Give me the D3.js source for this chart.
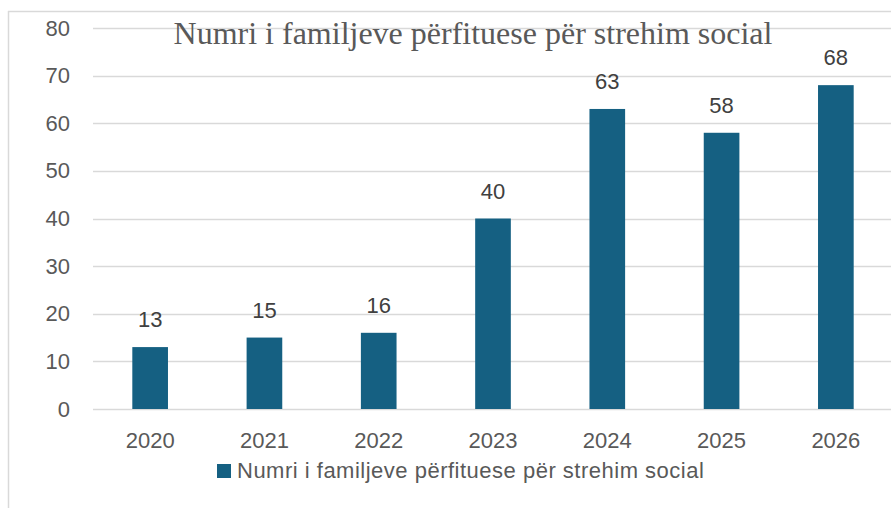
<!DOCTYPE html>
<html>
<head>
<meta charset="utf-8">
<script src="https://cdn.jsdelivr.net/npm/d3@7"></script>
<style>
  body { margin: 0; background: #fff; }
  svg { display: block; }
</style>
</head>
<body>
<svg></svg>
<script>
// chart values
const years = ['2020', '2021', '2022', '2023', '2024', '2025', '2026'];
const families = [13, 15, 16, 40, 63, 58, 68];
const yTicks = [0, 10, 20, 30, 40, 50, 60, 70, 80];
const title = 'Numri i familjeve përfituese për strehim social';
const seriesName = 'Numri i familjeve përfituese për strehim social';

let width = 891;
let height = 508;

let svg = d3.select('svg')
    .attr('width', width)
    .attr('height', height);

// chart frame (only top and left edges are visible)
svg.append('line')
    .attr('x1', 8.5).attr('x2', 8.5)
    .attr('y1', 11).attr('y2', height)
    .attr('stroke', '#d9d9d9').attr('stroke-width', 1.5);
svg.append('line')
    .attr('x1', 8).attr('x2', width)
    .attr('y1', 11.5).attr('y2', 11.5)
    .attr('stroke', '#d9d9d9').attr('stroke-width', 1.5);

let plot = { left: 93, right: 893, top: 28, bottom: 409 };

let x = d3.scaleBand()
    .domain(years)
    .range([plot.left, plot.right])
    .paddingInner(0.688)
    .paddingOuter(0.344);

let y = d3.scaleLinear()
    .domain([0, 80])
    .range([plot.bottom, plot.top]);

const sans = '"Liberation Sans", Arial, sans-serif';

// gridlines
svg.append('g')
    .selectAll('line')
    .data(yTicks)
    .enter()
    .append('line')
    .attr('x1', plot.left)
    .attr('x2', plot.right)
    .attr('y1', d => Math.round(y(d)) + 0.5)
    .attr('y2', d => Math.round(y(d)) + 0.5)
    .attr('stroke', '#d9d9d9')
    .attr('stroke-width', 1.5);

// title (drawn over the top gridline like the original)
svg.append('text')
    .attr('x', 473)
    .attr('y', 44)
    .attr('text-anchor', 'middle')
    .style('font-family', '"Liberation Serif", "DejaVu Serif", serif')
    .style('font-size', '32px')
    .style('fill', '#595959')
    .text(title);

// y axis labels
let yAxis = d3.axisLeft(y)
    .tickValues(yTicks)
    .tickSize(0)
    .tickPadding(23);
svg.append('g')
    .attr('transform', `translate(${plot.left},0)`)
    .call(yAxis)
    .call(g => g.select('.domain').remove())
    .selectAll('text')
    .style('font-family', sans)
    .style('font-size', '22px')
    .style('fill', '#595959');

// x axis labels
let xAxis = d3.axisBottom(x)
    .tickSize(0)
    .tickPadding(23);
svg.append('g')
    .attr('transform', `translate(0,${plot.bottom})`)
    .call(xAxis)
    .call(g => g.select('.domain').remove())
    .selectAll('text')
    .style('font-family', sans)
    .style('font-size', '22px')
    .style('fill', '#595959');

// bars
let data = years.map((yr, i) => ({ year: yr, value: families[i] }));

svg.append('g')
    .selectAll('rect')
    .data(data)
    .enter()
    .append('rect')
    .attr('x', d => x(d.year))
    .attr('y', d => y(d.value))
    .attr('width', x.bandwidth())
    .attr('height', d => y(0) - y(d.value))
    .attr('fill', '#156082');

// value labels
svg.append('g')
    .selectAll('text')
    .data(data)
    .enter()
    .append('text')
    .attr('x', d => x(d.year) + x.bandwidth() / 2)
    .attr('y', d => y(d.value) - 20)
    .attr('text-anchor', 'middle')
    .style('font-family', sans)
    .style('font-size', '22px')
    .style('fill', '#404040')
    .text(d => d.value);

// legend
let legend = svg.append('g').attr('transform', 'translate(217,464)');
legend.append('rect')
    .attr('width', 14)
    .attr('height', 14)
    .attr('fill', '#156082');
legend.append('text')
    .attr('x', 20)
    .attr('y', 14)
    .style('font-family', sans)
    .style('font-size', '22px')
    .style('letter-spacing', '0.5px')
    .style('fill', '#595959')
    .text(seriesName);
</script>
</body>
</html>
